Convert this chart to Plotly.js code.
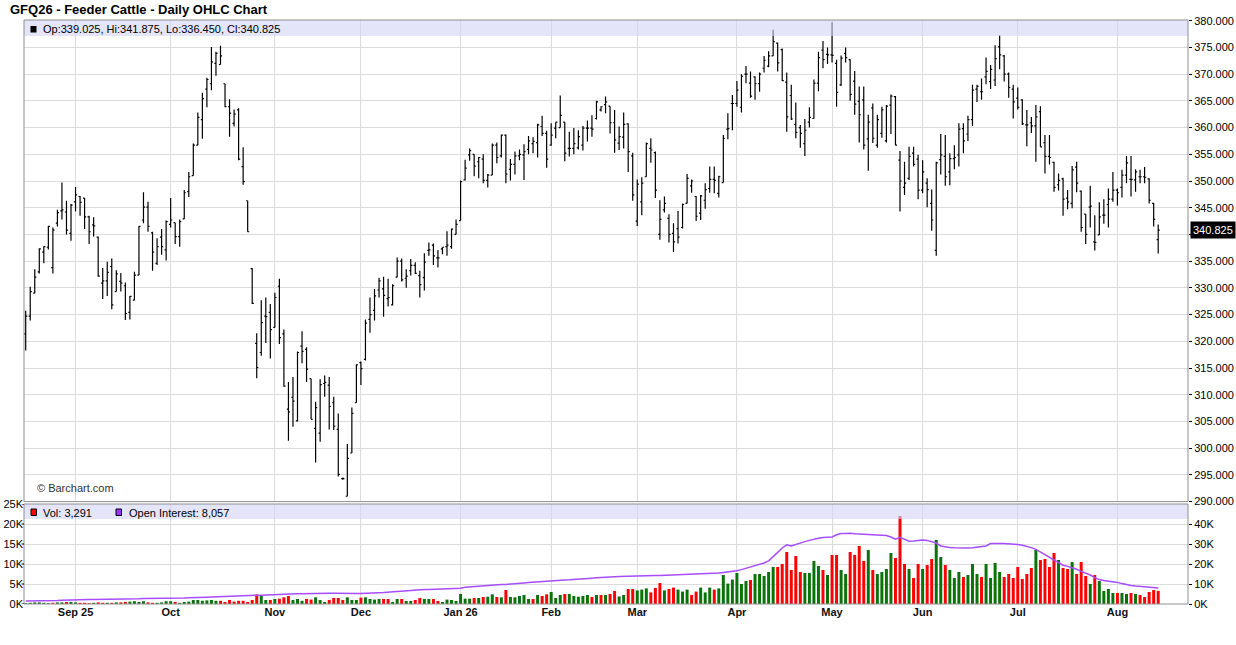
<!DOCTYPE html>
<html>
<head>
<meta charset="utf-8">
<script src="https://cdn.plot.ly/plotly-3.0.1.min.js"></script>
<style>
html,body{margin:0;padding:0;background:#fff;}
#chart{width:1236px;height:645px;}
</style>
</head>
<body>
<div id="chart"></div>
<script>
// ---- DATA (GFQ26 Feeder Cattle, daily) ----
const dates = [
"2025-08-15","2025-08-18","2025-08-19","2025-08-20","2025-08-21","2025-08-22","2025-08-25","2025-08-26","2025-08-27","2025-08-28","2025-08-29",
"2025-09-02","2025-09-03","2025-09-04","2025-09-05","2025-09-08","2025-09-09","2025-09-10","2025-09-11","2025-09-12","2025-09-15","2025-09-16","2025-09-17","2025-09-18","2025-09-19","2025-09-22","2025-09-23","2025-09-24","2025-09-25","2025-09-26","2025-09-29","2025-09-30",
"2025-10-01","2025-10-02","2025-10-03","2025-10-06","2025-10-07","2025-10-08","2025-10-09","2025-10-10","2025-10-13","2025-10-14","2025-10-15","2025-10-16","2025-10-17","2025-10-20","2025-10-21","2025-10-22","2025-10-23","2025-10-24","2025-10-27","2025-10-28","2025-10-29","2025-10-30","2025-10-31",
"2025-11-03","2025-11-04","2025-11-05","2025-11-06","2025-11-07","2025-11-10","2025-11-11","2025-11-12","2025-11-13","2025-11-14","2025-11-17","2025-11-18","2025-11-19","2025-11-20","2025-11-21","2025-11-24","2025-11-25","2025-11-26","2025-11-28",
"2025-12-01","2025-12-02","2025-12-03","2025-12-04","2025-12-05","2025-12-08","2025-12-09","2025-12-10","2025-12-11","2025-12-12","2025-12-15","2025-12-16","2025-12-17","2025-12-18","2025-12-19","2025-12-22","2025-12-23","2025-12-24","2025-12-26","2025-12-29","2025-12-30","2025-12-31",
"2026-01-02","2026-01-05","2026-01-06","2026-01-07","2026-01-08","2026-01-09","2026-01-12","2026-01-13","2026-01-14","2026-01-15","2026-01-16","2026-01-20","2026-01-21","2026-01-22","2026-01-23","2026-01-26","2026-01-27","2026-01-28","2026-01-29","2026-01-30",
"2026-02-02","2026-02-03","2026-02-04","2026-02-05","2026-02-06","2026-02-09","2026-02-10","2026-02-11","2026-02-12","2026-02-13","2026-02-17","2026-02-18","2026-02-19","2026-02-20","2026-02-23","2026-02-24","2026-02-25","2026-02-26","2026-02-27",
"2026-03-02","2026-03-03","2026-03-04","2026-03-05","2026-03-06","2026-03-09","2026-03-10","2026-03-11","2026-03-12","2026-03-13","2026-03-16","2026-03-17","2026-03-18","2026-03-19","2026-03-20","2026-03-23","2026-03-24","2026-03-25","2026-03-26","2026-03-27","2026-03-30","2026-03-31",
"2026-04-01","2026-04-02","2026-04-06","2026-04-07","2026-04-08","2026-04-09","2026-04-10","2026-04-13","2026-04-14","2026-04-15","2026-04-16","2026-04-17","2026-04-20","2026-04-21","2026-04-22","2026-04-23","2026-04-24","2026-04-27","2026-04-28","2026-04-29","2026-04-30",
"2026-05-01","2026-05-04","2026-05-05","2026-05-06","2026-05-07","2026-05-08","2026-05-11","2026-05-12","2026-05-13","2026-05-14","2026-05-15","2026-05-18","2026-05-19","2026-05-20","2026-05-21","2026-05-22","2026-05-26","2026-05-27","2026-05-28","2026-05-29",
"2026-06-01","2026-06-02","2026-06-03","2026-06-04","2026-06-05","2026-06-08","2026-06-09","2026-06-10","2026-06-11","2026-06-12","2026-06-15","2026-06-16","2026-06-17","2026-06-18","2026-06-22","2026-06-23","2026-06-24","2026-06-25","2026-06-26","2026-06-29","2026-06-30",
"2026-07-01","2026-07-02","2026-07-06","2026-07-07","2026-07-08","2026-07-09","2026-07-10","2026-07-13","2026-07-14","2026-07-15","2026-07-16","2026-07-17","2026-07-20","2026-07-21","2026-07-22","2026-07-23","2026-07-24","2026-07-27","2026-07-28","2026-07-29","2026-07-30","2026-07-31",
"2026-08-03","2026-08-04","2026-08-05","2026-08-06","2026-08-07","2026-08-10","2026-08-11","2026-08-12","2026-08-13","2026-08-14"
];

const opens = [
321.4,324.7,329.0,333.0,336.7,337.6,333.8,342.1,344.4,344.2,
340.2,346.1,347.1,346.8,343.3,341.8,339.5,330.9,331.3,334.0,
329.3,331.2,330.4,325.4,327.7,332.4,342.7,345.1,340.3,334.6,
339.5,337.1,341.9,342.2,339.6,342.9,348.0,351.0,356.7,361.5,
367.2,368.2,372.0,371.8,368.2,363.9,360.8,363.3,352.7,346.3,
333.6,319.6,317.9,324.7,325.4,322.6,330.3,321.4,307.3,309.5,
305.1,319.1,318.5,313.0,303.7,302.8,312.1,311.8,308.5,303.5,
294.3,291.0,299.1,308.5,316.0,316.6,324.1,325.8,329.6,329.8,
328.0,326.8,332.0,335.0,331.8,333.2,334.2,332.3,331.9,337.0,
338.0,335.6,337.3,337.7,337.7,340.0,342.6,350.2,354.9,355.0,
353.6,354.1,350.1,351.1,356.7,354.7,358.6,352.2,353.1,354.7,
354.9,355.9,357.0,357.2,360.2,358.9,356.7,359.9,360.0,361.0,
356.1,356.1,356.2,356.7,359.9,359.9,361.7,363.3,364.3,364.0,
360.9,357.1,358.2,360.7,354.7,342.5,346.1,350.8,356.1,355.3,
340.0,344.6,343.0,340.2,341.1,341.3,345.8,349.1,347.1,344.0,
346.4,348.6,350.3,347.7,349.7,359.7,364.5,364.5,363.8,370.0,
368.3,369.5,368.2,371.1,371.5,373.4,375.8,374.6,368.5,366.0,
360.6,360.0,357.0,361.0,361.7,368.3,374.5,373.7,373.6,372.0,
368.0,373.9,372.7,368.7,364.9,365.2,357.9,363.7,356.7,358.9,
357.5,364.2,365.8,353.9,348.8,350.5,355.2,354.1,348.3,349.6,
345.8,337.0,354.0,354.6,351.7,354.2,354.9,359.8,358.8,361.5,
367.2,366.7,369.5,368.6,368.9,375.1,373.4,370.0,367.2,365.5,
365.2,360.5,360.9,360.3,363.0,357.2,354.6,353.5,349.3,350.4,
346.8,345.8,352.6,348.1,343.8,345.1,338.6,339.9,343.6,345.6,
346.6,348.3,348.8,351.1,350.3,350.2,350.8,350.8,350.4,345.8,
339.025
];

const highs = [
325.7,330.2,333.5,337.4,337.8,341.6,341.3,344.6,349.7,346.3,
345.7,348.9,347.2,346.8,343.5,343.2,339.6,333.7,334.9,335.5,
333.3,332.8,331.0,328.5,333.0,341.6,347.9,346.1,340.5,339.3,
341.0,342.6,346.8,342.2,342.8,348.3,351.7,357.0,362.8,366.5,
369.3,375.1,374.2,375.3,368.2,365.3,363.4,363.6,356.3,346.3,
333.7,321.5,327.7,328.2,327.0,329.1,331.7,322.2,312.4,313.3,
318.1,321.9,318.9,313.0,308.7,312.9,313.6,313.3,309.6,306.5,
294.5,300.8,307.6,315.7,316.2,324.1,328.2,329.8,331.9,332.1,
331.7,330.7,335.7,335.5,333.5,335.4,334.8,333.2,336.5,338.5,
338.3,337.1,337.6,340.6,341.1,342.8,350.1,354.0,356.1,355.0,
354.5,355.0,351.3,357.0,357.2,358.7,358.7,354.1,355.5,355.9,
356.9,358.4,358.2,360.7,362.2,359.4,360.8,361.0,366.0,361.0,
359.2,359.9,359.5,360.3,361.3,362.3,365.0,364.0,365.8,364.0,
363.3,360.2,362.8,360.8,355.3,350.3,350.7,357.2,358.0,355.5,
346.4,347.1,343.8,342.1,344.4,345.8,351.3,350.3,347.2,347.4,
349.6,352.7,352.7,351.0,358.6,362.7,366.1,368.7,370.0,371.5,
370.5,369.6,370.3,373.4,374.3,378.3,375.9,374.8,370.3,368.0,
364.7,360.5,361.6,363.8,369.0,374.2,376.2,375.0,379.7,372.7,
373.5,375.0,372.8,370.6,367.7,367.7,362.4,364.5,362.4,363.9,
364.2,366.2,365.9,355.6,353.6,356.4,356.4,354.9,353.9,350.5,
348.4,353.6,358.8,358.6,355.2,356.7,360.8,360.8,362.2,368.0,
368.0,369.2,373.1,371.7,375.4,377.3,373.6,370.3,368.0,367.5,
365.3,363.3,362.0,364.2,364.0,358.6,358.6,353.6,351.4,350.6,
348.3,352.8,353.6,348.2,343.8,349.1,343.6,346.0,346.6,348.6,
351.7,348.6,352.1,354.7,354.7,352.2,352.1,352.6,350.5,345.9,
341.875
];

const lows = [
318.3,323.9,329.0,332.7,334.6,337.2,332.7,341.5,342.8,340.0,
338.8,344.3,343.5,341.0,338.2,339.6,332.1,327.9,328.5,326.0,
329.3,329.3,324.0,324.1,327.7,332.4,342.1,340.5,333.2,334.3,
336.2,335.1,341.3,338.2,337.7,342.9,347.0,351.0,356.7,357.9,
363.8,367.0,369.7,371.8,363.8,358.3,360.2,353.9,349.3,340.5,
327.0,313.1,317.3,319.7,316.8,322.6,319.5,311.5,301.4,304.0,
305.0,315.9,312.4,305.4,297.3,301.2,309.6,303.5,303.4,294.7,
294.1,291.0,299.1,308.5,311.8,316.4,321.6,323.9,328.2,324.6,
326.5,326.7,332.0,331.2,330.0,332.3,332.6,328.2,329.5,336.0,
334.3,333.8,336.3,336.0,337.3,340.0,342.6,350.1,353.8,350.9,
350.5,349.6,348.8,351.1,353.3,354.4,349.6,350.1,351.2,353.9,
350.2,355.0,355.2,354.4,358.4,352.5,356.6,358.0,360.0,353.7,
354.6,355.0,355.9,355.7,357.4,358.3,361.5,363.0,362.7,358.9,
355.3,355.8,356.1,351.7,346.3,341.6,343.6,350.8,353.4,346.8,
339.0,344.1,338.5,336.7,338.3,341.1,345.8,347.8,342.5,342.7,
344.8,347.8,347.7,346.9,349.7,357.8,359.5,363.9,362.8,368.3,
365.6,365.2,366.7,370.3,371.3,373.4,370.5,368.7,359.2,361.4,
358.0,356.2,354.7,360.0,361.7,366.8,371.1,371.9,372.2,363.9,
367.8,372.2,365.0,362.4,357.2,355.9,351.9,357.1,356.2,358.1,
357.2,358.8,356.7,344.3,347.4,350.2,352.7,346.6,347.7,345.1,
340.7,336.0,351.2,349.1,349.2,352.2,352.7,355.2,357.5,360.3,
364.8,365.2,368.1,367.2,367.8,370.9,368.6,365.6,361.7,363.4,
360.5,356.5,359.0,353.6,356.4,351.4,353.1,348.0,348.2,343.5,
344.7,344.9,347.9,340.5,338.2,341.3,337.0,339.9,342.0,341.3,
346.1,345.4,346.9,349.6,347.1,348.0,349.6,349.6,345.8,341.5,
336.450
];

const closes = [
324.7,329.3,332.0,337.3,337.7,341.5,340.8,344.1,344.6,340.8,
345.5,347.4,346.0,343.3,340.5,341.6,332.2,331.3,332.9,326.8,
332.6,330.9,325.2,328.4,332.4,341.5,345.1,341.5,336.7,337.7,
337.7,342.4,342.7,339.6,342.4,347.8,350.8,356.7,361.9,365.4,
369.0,372.3,373.9,373.4,363.9,362.7,362.5,354.1,349.9,340.5,
327.1,315.1,323.5,324.6,322.2,328.2,320.7,311.6,306.8,308.8,
317.9,318.1,314.8,305.4,307.6,311.9,312.3,307.8,304.1,295.1,
294.3,298.1,306.5,315.6,314.9,323.4,325.0,328.5,331.3,328.6,
328.2,330.4,335.0,331.5,332.2,334.2,332.7,330.6,334.8,337.1,
336.0,335.6,337.6,338.0,341.0,341.9,349.9,352.4,355.7,352.8,
354.4,350.1,351.1,356.7,354.4,358.6,351.3,353.1,354.7,355.0,
355.5,357.5,357.4,360.5,358.9,354.1,358.6,361.0,362.3,355.2,
356.1,357.0,358.3,359.9,359.9,359.7,364.8,363.9,364.8,360.9,
357.7,358.3,360.6,355.5,347.4,349.4,349.6,357.0,355.8,348.3,
342.8,345.8,340.0,338.6,339.5,345.6,350.5,350.0,343.4,347.2,
348.4,350.3,350.1,350.8,358.0,359.8,364.5,367.0,369.6,370.0,
365.9,368.2,370.0,372.6,373.4,376.1,372.1,368.8,362.0,361.6,
359.1,358.9,359.5,361.9,368.3,373.1,372.7,373.6,373.5,366.6,
373.0,373.1,366.2,364.4,362.4,356.7,361.0,358.0,361.5,363.3,
364.0,365.9,356.7,350.0,349.6,354.6,353.1,348.3,351.7,348.4,
342.7,353.4,354.9,350.8,354.2,354.4,359.7,357.5,361.5,367.0,
367.7,366.7,370.5,370.9,372.9,373.6,370.0,367.5,364.8,363.8,
360.7,360.5,360.3,362.0,356.4,354.6,354.4,348.8,350.1,346.6,
346.1,352.1,349.6,341.3,340.0,345.3,338.5,343.3,343.6,346.6,
348.3,347.8,351.1,353.4,350.3,351.7,350.8,350.7,346.4,342.8,
340.825
];

const volume = [
200,300,400,400,300,200,300,400,400,500,
500,400,300,300,200,300,400,300,300,300,
400,400,500,600,700,500,700,400,300,300,
400,700,700,500,300,500,600,1000,1000,800,
900,1000,800,800,500,1000,600,800,800,500,
1000,2400,2000,1000,1000,1250,1330,1670,2000,1000,
1250,800,1250,1100,1670,1000,500,1000,1500,1500,
1000,1670,1000,1000,1600,1670,1250,1100,1250,1250,
1250,500,1250,1250,750,750,1000,1500,1250,1250,
1250,750,500,1100,1000,750,2500,1330,1330,1500,
1500,1750,1830,2420,1750,1670,3500,1750,1670,2000,
2250,1250,1250,2250,2000,2420,3000,1500,2250,2500,
2500,2000,1830,2000,2250,1750,2250,2250,2250,2500,
3250,1900,2250,3750,3750,3400,3600,3900,2900,4000,
5250,3400,3750,4100,3600,3100,3600,2250,3100,4100,
2900,4100,3600,3900,7250,5100,6100,7750,5000,5750,
6000,7500,7500,7000,8000,9250,9250,10000,13000,8500,
12000,8000,7750,7750,10750,9500,8500,7250,12250,12250,
8500,7500,13000,12250,14500,10750,13500,8500,7500,8000,
8750,12750,11500,22000,10000,8750,6500,10000,8750,9750,
11250,16000,11750,9750,8500,6500,8000,6750,7250,10000,
7500,6750,10000,6500,10250,8000,6750,7500,6500,9250,
6250,7500,9000,13500,11000,11250,9250,12750,11000,9000,
8750,10500,7500,10500,7000,5000,7250,5750,3250,3750,
2750,2750,2750,2500,2750,2500,2250,1750,3000,3500,
3291
];

const openInterest = [
1500,1500,1600,1600,1700,1700,1800,1800,1900,1900,
2000,2100,2100,2200,2200,2300,2300,2300,2400,2400,
2500,2500,2500,2600,2600,2600,2700,2700,2700,2800,
2800,2800,2800,2900,3000,3000,3100,3100,3200,3300,
3400,3500,3600,3700,3800,3900,3900,4000,4100,4200,
4300,4500,4600,4600,4700,4700,4800,4900,5000,5000,
5100,5100,5200,5300,5300,5300,5400,5400,5400,5300,
5300,5300,5200,5200,5300,5300,5400,5500,5600,5700,
5900,6100,6300,6500,6700,6900,7000,7100,7200,7200,
7300,7300,7300,7400,7400,7500,7900,8400,8600,8800,
9000,9100,9300,9400,9600,9700,9800,9900,10100,10300,
10500,10700,10900,11100,11300,11500,11700,11800,11900,12000,
12100,12200,12400,12500,12700,12900,13100,13300,13400,13500,
13600,13700,13800,13900,13900,14000,14000,14000,14100,14200,
14200,14300,14400,14500,14600,14700,14800,14800,14900,14900,
15000,15100,15200,15500,15800,16000,16300,16600,17200,17800,
18500,19200,19800,20500,21600,23500,25800,28000,29600,29000,
29800,30600,31200,31800,32400,32900,33200,33400,33500,34600,
35200,35300,35400,35100,34900,34800,34700,34600,34500,34400,
34200,33500,32400,33300,32200,31400,31500,31800,32000,31800,
31300,30500,29000,28500,28300,28100,28000,28000,28000,28100,
28400,28800,29000,30200,30400,30300,30200,30100,30000,29800,
29400,28900,28200,27300,26000,24400,23000,22000,20800,19400,
18800,18200,17400,16300,15500,14500,13200,12200,11800,11500,
11200,10800,10200,9600,9300,9000,8800,8500,8300,8150,
8057
];

const monthTickDates  = ["2025-09-02","2025-10-01","2025-11-03","2025-12-01","2026-01-02","2026-02-02","2026-03-02","2026-04-01","2026-05-01","2026-06-01","2026-07-01","2026-08-03"];
const monthTickLabels = ["Sep 25","Oct","Nov","Dec","Jan 26","Feb","Mar","Apr","May","Jun","Jul","Aug"];
const priceTicks = [290,295,300,305,310,315,320,325,330,335,340,345,350,355,360,365,370,375,380];
const volTicks = [0,5000,10000,15000,20000,25000];
const volTickLabels = ["0K","5K","10K","15K","20K","25K"];
const oiTicks = [0,10000,20000,30000,40000];
const oiTickLabels = ["0K","10K","20K","30K","40K"];

// ---- RENDER ----
const W = 1236, H = 645;
const M = {l:24, r:48, t:20, b:41};
const plotW = W - M.l - M.r, plotH = H - M.t - M.b;
const px2x = p => (p - M.l) / plotW;
const py2y = p => (H - M.b - p) / plotH;

const n = closes.length;
const last = n - 1;
const lastClose = closes[last];
const GREEN = '#0a720a', RED = '#ff0000';
const volColors = closes.map((c, i) => (i === 0 || c >= closes[i - 1]) ? GREEN : RED);

const FONT = 'Liberation Sans, Arial, Helvetica, sans-serif';
const priceDomain = [py2y(501.6), 1];
const volDomain = [0, py2y(504)];

const traces = [
  {
    type: 'ohlc', x: dates, open: opens, high: highs, low: lows, close: closes,
    xaxis: 'x', yaxis: 'y', tickwidth: 0.35,
    increasing: {line: {color: '#000', width: 1.2}},
    decreasing: {line: {color: '#000', width: 1.2}},
    hoverinfo: 'skip', showlegend: false
  },
  {
    type: 'bar', x: dates, y: volume, xaxis: 'x', yaxis: 'y2',
    marker: {color: volColors, line: {width: 0}}, width: 0.66,
    hoverinfo: 'skip', showlegend: false
  },
  {
    type: 'scatter', mode: 'lines', x: dates, y: openInterest, xaxis: 'x', yaxis: 'y3',
    line: {color: '#a64dff', width: 1.5}, hoverinfo: 'skip', showlegend: false
  }
];

const fmt = v => v.toFixed(3);
const legendText = 'Op:' + fmt(opens[last]) + ', Hi:' + fmt(highs[last]) + ', Lo:' + fmt(lows[last]) + ', Cl:' + fmt(closes[last]);

const layout = {
  width: W, height: H,
  margin: M,
  paper_bgcolor: '#fff', plot_bgcolor: '#fff',
  showlegend: false,
  font: {family: FONT, size: 11, color: '#000'},
  title: {
    text: '<b>GFQ26 - Feeder Cattle - Daily OHLC Chart</b>',
    x: 10 / W, xref: 'container', xanchor: 'left',
    y: 1 - 9 / H, yref: 'container', yanchor: 'middle',
    font: {family: FONT, size: 13, color: '#000'}
  },
  xaxis: {
    type: 'category', anchor: 'y2',
    range: [(M.l - 25.7) / 4.53, (M.l + plotW - 25.7) / 4.53],
    tickvals: monthTickDates, ticktext: monthTickLabels,
    tickfont: {family: FONT, size: 11, color: '#111', weight: 'bold'},
    showgrid: true, gridcolor: '#dcdcdc', gridwidth: 1,
    ticks: '', showline: false, zeroline: false,
    rangeslider: {visible: false}, fixedrange: true
  },
  yaxis: {
    domain: priceDomain, range: [290, 380 + (20.7 - M.t) / 5.343],
    side: 'right', anchor: 'x',
    tickvals: priceTicks,
    ticktext: priceTicks.map(v => Math.abs(v - lastClose) < 2.6 ? '' : v.toFixed(3)),
    tickfont: {family: FONT, size: 11, color: '#000'},
    showgrid: true, gridcolor: '#dcdcdc', gridwidth: 1,
    ticks: 'outside', ticklen: 3, tickcolor: '#000',
    showline: false, zeroline: false, fixedrange: true
  },
  yaxis2: {
    domain: volDomain, range: [0, 25000], side: 'left', anchor: 'x',
    tickvals: volTicks, ticktext: volTickLabels,
    tickfont: {family: FONT, size: 11, color: '#000'},
    showgrid: true, gridcolor: '#dcdcdc', gridwidth: 1,
    ticks: '', showline: false, zeroline: false, fixedrange: true
  },
  yaxis3: {
    overlaying: 'y2', side: 'right', anchor: 'x', range: [0, 50000],
    tickvals: oiTicks, ticktext: oiTickLabels,
    tickfont: {family: FONT, size: 11, color: '#000'},
    showgrid: false, ticks: 'outside', ticklen: 3, tickcolor: '#000',
    showline: false, zeroline: false, fixedrange: true
  },
  shapes: [
    // header bands (semi-transparent lavender, above marks)
    {type: 'rect', xref: 'paper', yref: 'paper', x0: 0, x1: 1, y0: py2y(36), y1: 1,
     fillcolor: 'rgba(212,212,247,0.6)', line: {width: 0}, layer: 'above'},
    {type: 'rect', xref: 'paper', yref: 'paper', x0: 0, x1: 1, y0: py2y(519), y1: volDomain[1],
     fillcolor: 'rgba(212,212,247,0.6)', line: {width: 0}, layer: 'above'},
    // panel frames
    {type: 'rect', xref: 'paper', yref: 'paper', x0: 0, x1: 1, y0: priceDomain[0], y1: 1,
     fillcolor: 'rgba(0,0,0,0)', line: {color: '#8f8f8f', width: 1}, layer: 'above'},
    {type: 'rect', xref: 'paper', yref: 'paper', x0: 0, x1: 1, y0: 0, y1: volDomain[1],
     fillcolor: 'rgba(0,0,0,0)', line: {color: '#8f8f8f', width: 1}, layer: 'above'},
    // left axis tick marks of the volume panel
    ...volTicks.map(v => ({type: 'line', xref: 'paper', yref: 'y2', x0: px2x(21.5), x1: px2x(24), y0: v, y1: v,
     line: {color: '#000', width: 1}, layer: 'above'})),
    // legend swatches
    {type: 'rect', xref: 'paper', yref: 'paper', x0: px2x(30.5), x1: px2x(36.5), y0: py2y(32.5), y1: py2y(26),
     fillcolor: '#000', line: {width: 0}, layer: 'above'},
    {type: 'rect', xref: 'paper', yref: 'paper', x0: px2x(31), x1: px2x(36.5), y0: py2y(515.5), y1: py2y(509),
     fillcolor: '#ff0000', line: {color: '#000', width: 1}, layer: 'above'},
    {type: 'rect', xref: 'paper', yref: 'paper', x0: px2x(116), x1: px2x(121.5), y0: py2y(515.5), y1: py2y(509),
     fillcolor: '#9933ff', line: {color: '#000', width: 1}, layer: 'above'}
  ],
  annotations: [
    {xref: 'paper', yref: 'paper', x: px2x(40.5), y: py2y(29), xanchor: 'left', yanchor: 'middle',
     text: legendText, showarrow: false, font: {family: FONT, size: 11, color: '#000'}},
    {xref: 'paper', yref: 'paper', x: px2x(40.5), y: py2y(512.5), xanchor: 'left', yanchor: 'middle',
     text: 'Vol: ' + volume[last].toLocaleString('en-US'), showarrow: false, font: {family: FONT, size: 11, color: '#000'}},
    {xref: 'paper', yref: 'paper', x: px2x(126.5), y: py2y(512.5), xanchor: 'left', yanchor: 'middle',
     text: 'Open Interest: ' + openInterest[last].toLocaleString('en-US'), showarrow: false, font: {family: FONT, size: 11, color: '#000'}},
    {xref: 'paper', yref: 'paper', x: px2x(35), y: py2y(488), xanchor: 'left', yanchor: 'middle',
     text: '\u00a9 Barchart.com', showarrow: false, font: {family: FONT, size: 11, color: '#333'}},
    {xref: 'paper', yref: 'y', x: 1, y: lastClose, xanchor: 'left', yanchor: 'middle', xshift: 2,
     text: fmt(lastClose), showarrow: false, bgcolor: '#000', borderpad: 2, width: 40, align: 'left',
     font: {family: FONT, size: 11, color: '#fff'}}
  ]
};

Plotly.newPlot('chart', traces, layout, {staticPlot: true, displayModeBar: false});
</script>
</body>
</html>
